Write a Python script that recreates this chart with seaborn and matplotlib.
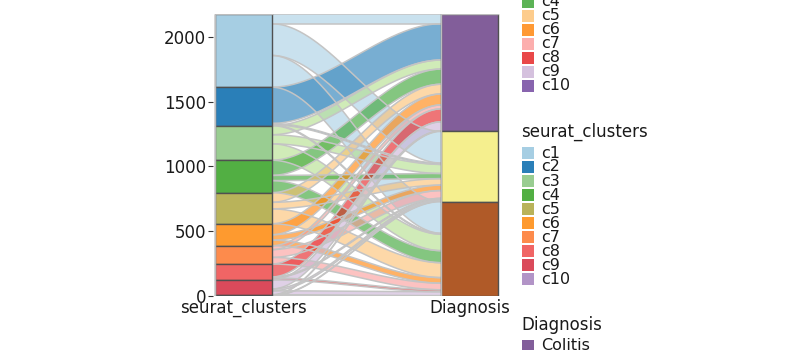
import numpy as np
import matplotlib
matplotlib.use("Agg")
import matplotlib.pyplot as plt
from matplotlib.patches import Rectangle
from matplotlib.colors import to_rgb
import seaborn as sns
import pandas as pd

# ---------------- data ----------------
clusters = ["c1", "c2", "c3", "c4", "c5", "c6", "c7", "c8", "c9", "c10"]
diagnoses = ["Colitis", "Non-colitis", "Healthy"]
n_colitis = [75, 280, 70, 117, 75, 85, 30, 100, 70, 4]
n_noncolitis = [245, 10, 70, 40, 50, 42, 60, 8, 14, 3]
n_healthy = [245, 7, 127, 93, 115, 43, 51, 15, 30, 3]
y_ticks = [0, 500, 1000, 1500, 2000]
axis_labels = ["seurat_clusters", "Diagnosis"]

cluster_stratum_colors = ["#a6cee3", "#2a7fb8", "#99cd91", "#52af43", "#b9b35a",
                          "#fe9a2f", "#fd8b4c", "#f06565", "#da4a5b", "#b294c7"]
diagnosis_stratum_colors = ["#825e9a", "#f5ef8e", "#b05a28"]
flow_colors = ["#a6cee3", "#1f78b4", "#b2df8a", "#33a02c", "#fdbf6f",
               "#ff7f00", "#fb9a99", "#e31a1c", "#cab2d6", "#6a3d9a"]

df = pd.DataFrame({
    "cluster": np.repeat(clusters, 3),
    "diagnosis": diagnoses * len(clusters),
    "n": np.ravel(np.column_stack([n_colitis, n_noncolitis, n_healthy])),
})

# ---------------- style ----------------
sns.set_theme(style="white")
plt.rcParams["font.family"] = ["DejaVu Sans"]

W, H = 800, 350
fig = plt.figure(figsize=(W / 100, H / 100), dpi=100)
ax = fig.add_axes([213 / W, 54 / H, 287 / W, 282 / H])

mat = df.pivot(index="cluster", columns="diagnosis", values="n").loc[clusters, diagnoses].values
total = mat.sum()
cl_tot = mat.sum(axis=1)
dg_tot = mat.sum(axis=0)
cl_top = total - np.concatenate([[0], np.cumsum(cl_tot)[:-1]])
dg_top = total - np.concatenate([[0], np.cumsum(dg_tot)[:-1]])

hw = 0.125
xl, xr = 1 + hw, 2 - hw
xs = np.linspace(xl, xr, 200)
t = (xs - xl) / (xr - xl)
s = t * t * (3 - 2 * t)

# flows
for i in range(len(clusters)):
    for j in range(len(diagnoses)):
        n = mat[i, j]
        if n <= 0:
            continue
        lt = cl_top[i] - mat[i, :j].sum()
        rt = dg_top[j] - mat[:i, j].sum()
        top = lt + (rt - lt) * s
        bot = top - n
        r, g, b = to_rgb(flow_colors[i])
        ax.fill_between(xs, bot, top, facecolor=(r, g, b, 0.6), edgecolor="none", zorder=2)
        ax.plot(xs, top, color="#c4c4c4", lw=1.1, zorder=3, solid_capstyle="butt")
        ax.plot(xs, bot, color="#c4c4c4", lw=1.1, zorder=3, solid_capstyle="butt")

# strata
for i in range(len(clusters)):
    ax.add_patch(Rectangle((1 - hw, cl_top[i] - cl_tot[i]), 2 * hw, cl_tot[i],
                           facecolor=cluster_stratum_colors[i], edgecolor="#505050",
                           lw=1.0, zorder=4))
for j in range(len(diagnoses)):
    ax.add_patch(Rectangle((2 - hw, dg_top[j] - dg_tot[j]), 2 * hw, dg_tot[j],
                           facecolor=diagnosis_stratum_colors[j], edgecolor="#505050",
                           lw=1.0, zorder=4))
# light outer outline
for xc in (1, 2):
    ax.plot([xc - hw, xc - hw, xc + hw], [0, total, total], color="#bdbdbd", lw=1.0, zorder=5)

ax.set_xlim(0.866, 2.134)
ax.set_ylim(0, total)
ax.set_xticks([1, 2])
ax.set_xticklabels(axis_labels)
ax.set_yticks(y_ticks)
ax.set_yticklabels([str(v) for v in y_ticks])
ax.tick_params(axis="y", length=3.5, width=0.8, color="#333333", pad=1.5,
               labelsize=12, labelcolor="#1a1a1a", left=True)
ax.tick_params(axis="x", length=0, pad=2, labelsize=12, labelcolor="#1a1a1a")
for sp in ax.spines.values():
    sp.set_visible(False)
ax.set_facecolor("white")


# ---------------- legends ----------------
def fx(x):
    return x / W


def fy(y):
    return 1 - y / H


def key(y, color):
    fig.patches.append(Rectangle((fx(522), fy(y + 6)), 12 / W, 12 / H, transform=fig.transFigure,
                                 facecolor=color, edgecolor="none", figure=fig))


def lab(y, s, size=11.5):
    fig.text(fx(541), fy(y), s, ha="left", va="center", fontsize=size, color="#1a1a1a")


def blend(c, a):
    r, g, b = to_rgb(c)
    return (1 - a + a * r, 1 - a + a * g, 1 - a + a * b)


# flow legend (top, clipped by figure edge)
for k in range(3, len(clusters)):
    yc = 86 - (len(clusters) - 1 - k) * 14
    key(yc, blend(flow_colors[k], 0.8))
    lab(yc, clusters[k])

# seurat_clusters legend
fig.text(fx(521), fy(131.5), "seurat_clusters", ha="left", va="center", fontsize=12, color="#1a1a1a")
for k in range(len(clusters)):
    yc = 153 + k * 14
    key(yc, cluster_stratum_colors[k])
    lab(yc, clusters[k])

# Diagnosis legend
fig.text(fx(521), fy(324.5), "Diagnosis", ha="left", va="center", fontsize=12, color="#1a1a1a")
key(346, diagnosis_stratum_colors[0])
lab(346, diagnoses[0])

fig.savefig("out.png", dpi=100, facecolor="white")
